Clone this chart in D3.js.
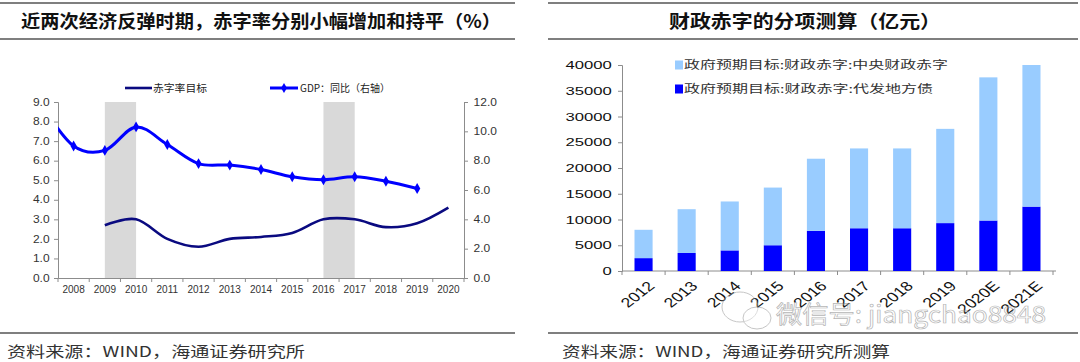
<!DOCTYPE html>
<html>
<head>
<meta charset="utf-8">
<script src="https://cdn.jsdelivr.net/npm/d3@7/dist/d3.min.js"></script>
<style>
  body { margin: 0; background: #fff; }
  text { font-family: "Liberation Sans", Arial, "Noto Sans CJK SC", sans-serif; }
  .cjk { font-family: "Noto Sans CJK SC", sans-serif; }
</style>
</head>
<body>
<div id="chart"></div>
<script>
/* global d3 */

// left chart: deficit target (%) and GDP yoy (right axis)
var years = ['2008', '2009', '2010', '2011', '2012', '2013', '2014',
  '2015', '2016', '2017', '2018', '2019', '2020'];
var deficitYears = ['2009', '2010', '2011', '2012', '2013', '2014',
  '2015', '2016', '2017', '2018', '2019', '2020'];
var deficitRate = [2.7, 3.0, 2.0, 1.6, 2.0, 2.1, 2.3, 3.0, 3.0, 2.6, 2.8, 3.6];
var gdpYears = ['2007', '2008', '2009', '2010', '2011', '2012', '2013',
  '2014', '2015', '2016', '2017', '2018', '2019'];
// 2007 sits left of the axis, only its lead-in curve is visible
var gdpYoy = [11.7, 9.0, 8.7, 10.3, 9.1, 7.8, 7.7, 7.4, 6.9, 6.7, 6.9, 6.6, 6.1];
var shadedPeriods = [['2009', '2010'], ['2016', '2017']];
var leftTicks = [0, 1, 2, 3, 4, 5, 6, 7, 8, 9];
var rightTicks = [0, 2, 4, 6, 8, 10, 12];

// right chart: deficit split (100 million yuan)
var barYears = ['2012', '2013', '2014', '2015', '2016', '2017', '2018',
  '2019', '2020E', '2021E'];
var centralDeficit = [5500, 8500, 9500, 11200, 14000, 15500, 15500, 18300, 27800, 27500];
var localBonds = [2500, 3500, 4000, 5000, 7800, 8300, 8300, 9300, 9800, 12500];
var barTicks = [0, 5000, 10000, 15000, 20000, 25000, 30000, 35000, 40000];

var W = 1080;
var H = 362;
var AXIS = '#8c8c8c';
var LABEL = '#333';

var svg = d3.select('#chart')
  .append('svg')
  .attr('width', W)
  .attr('height', H)
  .style('background', 'white');

// --- frame lines, titles, sources
function frame(x0, x1, title, tx, tlen, source, sx, slen) {
  [3, 39, 333].forEach(function(y) {
    svg.append('line')
      .attr('x1', x0).attr('x2', x1)
      .attr('y1', y).attr('y2', y)
      .attr('stroke', '#555')
      .attr('stroke-width', 1.3);
  });
  svg.append('text')
    .attr('class', 'cjk')
    .attr('x', tx)
    .attr('y', 28)
    .attr('font-size', 18)
    .attr('font-weight', 'bold')
    .attr('fill', '#111')
    .attr('textLength', tlen)
    .attr('lengthAdjust', 'spacingAndGlyphs')
    .text(title);
  svg.append('text')
    .attr('class', 'cjk')
    .attr('x', sx)
    .attr('y', 357)
    .attr('font-size', 15)
    .attr('fill', '#333')
    .attr('textLength', slen)
    .attr('lengthAdjust', 'spacingAndGlyphs')
    .text(source);
}

frame(0, 515, '近两次经济反弹时期，赤字率分别小幅增加和持平（%）', 21, 480,
  '资料来源：WIND，海通证券研究所', 7, 298);
frame(548, 1078, '财政赤字的分项测算（亿元）', 669, 272,
  '资料来源：WIND，海通证券研究所测算', 562, 328);

// ================= left chart =================
(function() {
  'use strict';

  var x = d3.scaleBand().domain(years).range([58, 464]);
  var yL = d3.scaleLinear().domain([0, 9]).range([278, 102]);
  var yR = d3.scaleLinear().domain([0, 12]).range([278, 102]);
  var cx = function(yr) {
    if (x(yr) === undefined) {
      return x(years[0]) - x.step() / 2;
    }
    return x(yr) + x.bandwidth() / 2;
  };

  var g = svg.append('g');

  g.append('clipPath').attr('id', 'plotL')
    .append('rect')
    .attr('x', x.range()[0]).attr('y', 0)
    .attr('width', x.range()[1] - x.range()[0]).attr('height', H);

  // shaded rebound periods
  g.selectAll('rect.shade')
    .data(shadedPeriods)
    .enter()
    .append('rect')
    .attr('class', 'shade')
    .attr('x', function(d) { return cx(d[0]); })
    .attr('width', function(d) { return cx(d[1]) - cx(d[0]); })
    .attr('y', yL(9))
    .attr('height', yL(0) - yL(9))
    .attr('fill', '#d9d9d9');

  // axes
  var axL = g.append('g')
    .attr('transform', 'translate(' + x.range()[0] + ',0)')
    .call(d3.axisLeft(yL).tickValues(leftTicks).tickFormat(d3.format('.1f'))
      .tickSize(4).tickPadding(3));
  var axR = g.append('g')
    .attr('transform', 'translate(' + x.range()[1] + ',0)')
    .call(d3.axisRight(yR).tickValues(rightTicks).tickFormat(d3.format('.1f'))
      .tickSize(4).tickPadding(4));
  var axB = g.append('g')
    .attr('transform', 'translate(0,' + yL(0) + ')')
    .call(d3.axisBottom(x).tickSize(0).tickPadding(8));
  axB.selectAll('.boundary')
    .data(years.concat(['end']))
    .enter()
    .append('line')
    .attr('class', 'boundary')
    .attr('x1', function(d, i) { return x.range()[0] + i * x.step(); })
    .attr('x2', function(d, i) { return x.range()[0] + i * x.step(); })
    .attr('y1', 0).attr('y2', 4)
    .attr('stroke', AXIS);

  [axL, axR, axB].forEach(function(a) {
    a.select('.domain').attr('stroke', AXIS);
    a.selectAll('.tick line').attr('stroke', AXIS);
    a.selectAll('text').attr('fill', LABEL).attr('font-size', 10)
      .attr('font-family', '"Liberation Sans", Arial, sans-serif');
  });
  axL.selectAll('.tick text').attr('transform', 'scale(1.2,1)');
  axR.selectAll('.tick text').attr('transform', 'scale(1.2,1)');

  // deficit target line
  var smooth = d3.curveCardinal.tension(0);
  g.append('path')
    .datum(deficitYears.map(function(d, i) { return [cx(d), yL(deficitRate[i])]; }))
    .attr('d', d3.line().curve(smooth))
    .attr('fill', 'none')
    .attr('stroke', '#0a0a80')
    .attr('stroke-width', 2.6);

  // GDP line, right axis
  var gdpPts = gdpYears.map(function(d, i) { return [cx(d), yR(gdpYoy[i])]; });
  g.append('path')
    .datum(gdpPts)
    .attr('clip-path', 'url(#plotL)')
    .attr('d', d3.line().curve(smooth))
    .attr('fill', 'none')
    .attr('stroke', '#0000ff')
    .attr('stroke-width', 3);
  g.selectAll('path.mk')
    .data(gdpPts.slice(1))
    .enter()
    .append('path')
    .attr('class', 'mk')
    .attr('transform', function(d) { return 'translate(' + d[0] + ',' + d[1] + ')'; })
    .attr('d', d3.symbol().type(d3.symbolDiamond).size(34))
    .attr('fill', '#0000ff');

  // legend
  var lg = g.append('g').attr('transform', 'translate(0,88)');
  lg.append('line')
    .attr('x1', 125).attr('x2', 152).attr('y1', 0).attr('y2', 0)
    .attr('stroke', '#0a0a80').attr('stroke-width', 2.6);
  lg.append('text')
    .attr('class', 'cjk')
    .attr('x', 153).attr('y', 3.5)
    .attr('font-size', 10).attr('fill', '#222')
    .attr('textLength', 54).attr('lengthAdjust', 'spacingAndGlyphs')
    .text('赤字率目标');
  lg.append('line')
    .attr('x1', 270).attr('x2', 298).attr('y1', 0).attr('y2', 0)
    .attr('stroke', '#0000ff').attr('stroke-width', 3);
  lg.append('path')
    .attr('transform', 'translate(284,0)')
    .attr('d', d3.symbol().type(d3.symbolDiamond).size(30))
    .attr('fill', '#0000ff');
  lg.append('text')
    .attr('class', 'cjk')
    .attr('x', 300).attr('y', 3.5)
    .attr('font-size', 10).attr('fill', '#222')
    .attr('textLength', 90).attr('lengthAdjust', 'spacingAndGlyphs')
    .text('GDP：同比（右轴）');
})();

// ================= right chart =================
(function() {
  'use strict';

  var x = d3.scaleBand().domain(barYears).range([622, 1053])
    .paddingInner(0.58).paddingOuter(0.29);
  var y = d3.scaleLinear().domain([0, 40000]).range([271, 65]);

  var g = svg.append('g');

  var axY = g.append('g')
    .attr('transform', 'translate(' + x.range()[0] + ',0)')
    .call(d3.axisLeft(y).tickValues(barTicks).tickFormat(d3.format('d'))
      .tickSize(4).tickPadding(3));
  axY.selectAll('.tick text')
    .attr('font-size', 11.5)
    .attr('transform', 'scale(1.45,1)');

  var axX = g.append('g')
    .attr('transform', 'translate(0,' + y(0) + ')')
    .call(d3.axisBottom(x).tickSize(0).tickPadding(0));
  axX.select('.domain').attr('d', 'M' + x.range()[0] + ',0H' + (x.range()[1] + 3));
  axX.selectAll('.boundary')
    .data(barYears.concat(['end']))
    .enter()
    .append('line')
    .attr('class', 'boundary')
    .attr('x1', function(d, i) { return x.range()[0] + i * x.step(); })
    .attr('x2', function(d, i) { return x.range()[0] + i * x.step(); })
    .attr('y1', 0).attr('y2', 4)
    .attr('stroke', AXIS);
  axX.selectAll('.tick text')
    .attr('font-size', 13.5)
    .attr('text-anchor', 'end')
    .attr('dy', null)
    .attr('y', null)
    .attr('transform', 'translate(' + (x.bandwidth() / 2 + 3) + ',16) scale(1.3,1) rotate(-45)');

  [axY, axX].forEach(function(a) {
    a.select('.domain').attr('stroke', AXIS);
    a.selectAll('.tick line').attr('stroke', AXIS);
    a.selectAll('text').attr('fill', '#111')
      .attr('font-family', '"Liberation Sans", Arial, sans-serif');
  });

  // stacked bars
  g.selectAll('rect.local')
    .data(barYears)
    .enter()
    .append('rect')
    .attr('class', 'local')
    .attr('x', function(d) { return x(d); })
    .attr('width', x.bandwidth())
    .attr('y', function(d, i) { return y(localBonds[i]); })
    .attr('height', function(d, i) { return y(0) - y(localBonds[i]); })
    .attr('fill', '#0000ff');
  g.selectAll('rect.central')
    .data(barYears)
    .enter()
    .append('rect')
    .attr('class', 'central')
    .attr('x', function(d) { return x(d); })
    .attr('width', x.bandwidth())
    .attr('y', function(d, i) { return y(localBonds[i] + centralDeficit[i]); })
    .attr('height', function(d, i) { return y(localBonds[i]) - y(localBonds[i] + centralDeficit[i]); })
    .attr('fill', '#99ccff');

  // legend
  var items = [
    { label: '政府预期目标:财政赤字:中央财政赤字', color: '#99ccff', len: 264 },
    { label: '政府预期目标:财政赤字:代发地方债', color: '#0000ff', len: 249 }
  ];
  var lg = g.selectAll('g.lg')
    .data(items)
    .enter()
    .append('g')
    .attr('class', 'lg')
    .attr('transform', function(d, i) { return 'translate(675,' + (65 + i * 24) + ')'; });
  lg.append('rect')
    .attr('x', 0).attr('y', -4.5).attr('width', 8).attr('height', 9)
    .attr('fill', function(d) { return d.color; });
  lg.append('text')
    .attr('class', 'cjk')
    .attr('x', 9).attr('y', 4)
    .attr('font-size', 11).attr('fill', '#333')
    .attr('textLength', function(d) { return d.len; })
    .attr('lengthAdjust', 'spacingAndGlyphs')
    .text(function(d) { return d.label; });

  // watermark
  var wm = svg.append('g').attr('opacity', 0.55);
  wm.append('ellipse')
    .attr('cx', 740).attr('cy', 307).attr('rx', 18).attr('ry', 15)
    .attr('fill', 'rgba(255,255,255,0.4)').attr('stroke', '#999');
  wm.append('ellipse')
    .attr('cx', 757).attr('cy', 318).attr('rx', 14).attr('ry', 11)
    .attr('fill', 'rgba(255,255,255,0.4)').attr('stroke', '#999');
  wm.append('text')
    .attr('class', 'cjk')
    .attr('x', 776).attr('y', 323)
    .attr('font-size', 24)
    .attr('fill', 'rgba(255,255,255,0.5)')
    .attr('stroke', '#777')
    .attr('stroke-width', 0.7)
    .attr('textLength', 270)
    .attr('lengthAdjust', 'spacingAndGlyphs')
    .text('微信号: jiangchao8848');
})();
</script>
</body>
</html>
